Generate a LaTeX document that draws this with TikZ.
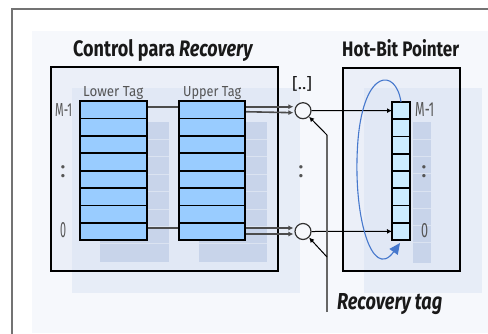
\documentclass[tikz,border=0pt]{standalone}
\usepackage{fontspec}
\usepackage{graphicx}
\setmainfont{Fira Sans}
\usetikzlibrary{arrows.meta,calc}
\definecolor{bgc}{RGB}{246,248,252}
\definecolor{layerc}{RGB}{226,233,246}
\definecolor{boxc}{RGB}{215,225,242}
\definecolor{shadc}{RGB}{190,204,230}
\definecolor{tagblue}{RGB}{153,204,255}
\definecolor{hotblue}{RGB}{204,236,255}
\definecolor{labgray}{RGB}{85,85,85}
\definecolor{arcblue}{RGB}{70,120,205}
\pgfdeclarelayer{back}
\pgfdeclarelayer{lines}
\pgfsetlayers{back,lines,main}
\newcommand{\fitto}[3]{\resizebox{#1pt}{#2pt}{#3}}
\tikzset{
  tagcell/.style={draw=black,line width=1.8pt,fill=tagblue,minimum width=67pt,minimum height=17.4pt,inner sep=0pt,outer sep=0pt},
  hotcell/.style={draw=black,line width=1.8pt,fill=hotblue,minimum width=18pt,minimum height=17.25pt,inner sep=0pt,outer sep=0pt},
  mux/.style={circle,draw=black!80,line width=1.2pt,fill=bgc,minimum size=16pt,inner sep=0pt},
  lab/.style={inner sep=0pt,anchor=base west,text=labgray},
  ttl/.style={inner sep=0pt,anchor=base west,text=black!90},
  conn/.style={draw=black!70,line width=1.6pt,-{Latex[length=5pt,width=5pt]}},
  thinarr/.style={draw=black,line width=1pt,-{Latex[length=5pt,width=5pt]}},
  dots/.style={inner sep=0pt,text=labgray,font=\fontsize{24}{24}\selectfont},
}
\begin{document}
\begin{tikzpicture}[x=1pt,y=-1pt]
\useasboundingbox (0,0) rectangle (488,333);
\begin{pgfonlayer}{back}
  \fill[white] (0,0) rectangle (488,333);
  % outer frame and background
  \draw[black!55,line width=1.5pt] (12,340) -- (12,9) -- (495,9);
  \fill[bgc] (32,31) rectangle (488,333);
  \fill[layerc,opacity=0.7] (72,88) rectangle (300,293);
  \fill[layerc,opacity=0.7] (364,88) rectangle (482,293);
  % boxes
  \filldraw[fill=boxc,fill opacity=0.35,draw=black,line width=1.8pt] (51,67) rectangle (278,271);
  \filldraw[fill=boxc,fill opacity=0.35,draw=black,line width=1.8pt] (343,68) rectangle (460,271);
  % column shadows
  \fill[shadc,opacity=0.7] (100,122) rectangle (169,262);
  \fill[shadc,opacity=0.7] (199,122) rectangle (267,262);
  \fill[shadc,opacity=0.7] (413,122) rectangle (431,263);
  \foreach \k in {1,...,7}{
    \draw[white,opacity=0.35,line width=1pt] (100,{122+17.4*\k}) -- (169,{122+17.4*\k});
    \draw[white,opacity=0.35,line width=1pt] (199,{122+17.4*\k}) -- (267,{122+17.4*\k});
    \draw[white,opacity=0.35,line width=1pt] (413,{122+17.25*\k}) -- (431,{122+17.25*\k});
  }
\end{pgfonlayer}
% cells
\foreach \i in {1,...,8}{
  \node[tagcell] (lo\i) at (113.5,{101+17.4*(\i-0.5)}) {};
  \node[tagcell,minimum width=66pt] (up\i) at (212,{101+17.4*(\i-0.5)}) {};
  \node[hotcell] (hb\i) at (401,{102+17.25*(\i-0.5)}) {};
}
% multiplexer circles
\node[mux] (c1) at (303,110.7) {};
\node[mux] (c2) at (303,231.5) {};
% titles and labels
\node[ttl] (t1) at (73,56) {\fitto{180}{17}{\bfseries Control para \textit{Recovery}}};
\node[ttl] (t2) at (342,56) {\fitto{117}{17}{\bfseries Hot-Bit Pointer}};
\node[lab] (l1) at (83,96) {\fitto{60}{10}{Lower Tag}};
\node[lab] (l2) at (183,96) {\fitto{58}{10}{Upper Tag}};
\node[lab] (m1) at (55,116) {\fitto{17}{13}{M-1}};
\node[lab] (m2) at (415,116) {\fitto{19}{14}{M-1}};
\node[lab] (z1) at (60,237) {\fitto{6}{15}{0}};
\node[lab] (z2) at (421,237) {\fitto{7}{14}{0}};
\node[ttl] (br) at (292,89) {\fitto{20}{13}{[..]}};
\node[dots] (d1) at (63,172) {:};
\node[dots] (d2) at (301,172) {:};
\node[dots] (d3) at (424,172) {:};
\node[ttl] (rt) at (337,309) {\fitto{105}{16}{\itshape\bfseries Recovery tag}};
% connectors
\coordinate (rbot) at (327,312);
\coordinate (rtop) at (327,135);
\coordinate (rmid) at (327,257);
\begin{pgfonlayer}{lines}
  \draw[conn] ($(lo1.east)+(0,-3)$) -- ($(c1.west)+(-1,-4)$);
  \draw[conn] ($(up1.east)+(0,2)$) -- ($(c1.west)+(-1,2)$);
  \draw[conn] ($(lo8.east)+(0,-3.5)$) -- ($(c2.west)+(-1,-3.5)$);
  \draw[conn] ($(up8.east)+(0,2.5)$) -- ($(c2.west)+(-1,2.5)$);
\end{pgfonlayer}
\draw[thinarr] (c1.east) -- (hb1.west);
\draw[thinarr] (c2.east) -- (hb8.west);
\draw[black!60,line width=1.2pt] (rbot) -- (rtop);
\draw[thinarr] (rtop) -- (c1.south east);
\draw[thinarr] (rmid) -- (c2.south east);
% hot-bit rotation arc
\draw[arcblue,line width=1.1pt,-{Triangle[length=11pt,width=10pt]}] (hb1.north) .. controls (396,68) and (364,68) .. (358,140) .. controls (352,215) and (372,282) .. (400,243);
\end{tikzpicture}
\end{document}
